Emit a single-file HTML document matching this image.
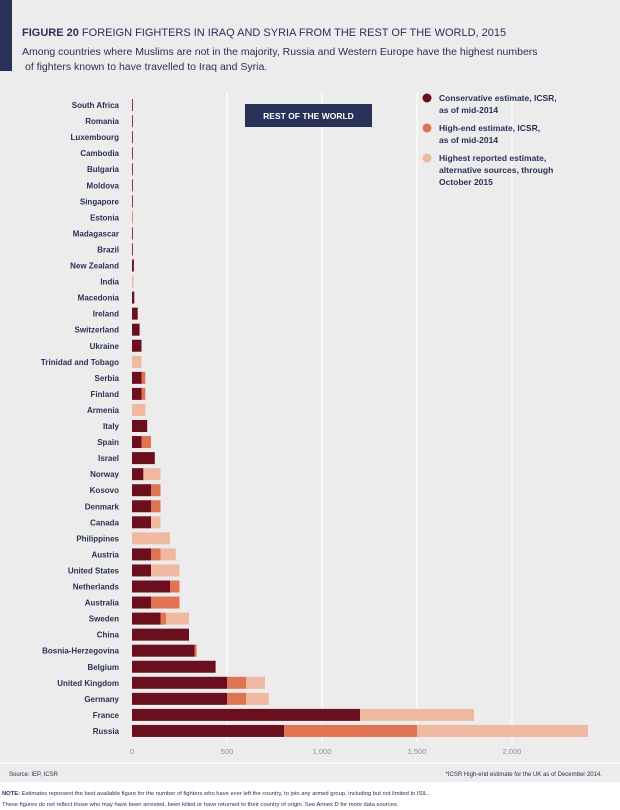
<!DOCTYPE html>
<html><head><meta charset="utf-8"><style>
body{margin:0;width:620px;height:810px;background:#fff;font-family:"Liberation Sans",sans-serif;overflow:hidden}
svg{display:block}
</style></head><body>
<svg id="c" width="620" height="810">
<rect x="0" y="0" width="620" height="782" fill="#ececec"/>
<rect x="0" y="0" width="12" height="71" fill="#283158"/>
<text x="22" y="36" font-size="11" fill="#283158"><tspan font-weight="bold">FIGURE 20</tspan>  FOREIGN FIGHTERS IN IRAQ AND SYRIA FROM THE REST OF THE WORLD, 2015</text>
<text x="22" y="55" font-size="10.5" fill="#283158">Among countries where Muslims are not in the majority, Russia and Western Europe have the highest numbers</text>
<text x="25" y="70" font-size="10.5" fill="#283158">of fighters known to have travelled to Iraq and Syria.</text>
<g id="grid"></g>
<g id="bars"></g>
<g id="labels"></g>
<g id="ticks"></g>
<rect x="245" y="104" width="127" height="23" fill="#283158"/>
<text x="308.5" y="119" font-size="8.5" font-weight="bold" fill="#fff" text-anchor="middle">REST OF THE WORLD</text>
<g font-size="8.5" font-weight="bold" fill="#283158">
<circle cx="427" cy="98" r="4.5" fill="#6b0f1e"/>
<text x="439" y="101">Conservative estimate, ICSR,<tspan x="439" dy="12">as of mid-2014</tspan></text>
<circle cx="427" cy="128" r="4.5" fill="#e07352"/>
<text x="439" y="131">High-end estimate, ICSR,<tspan x="439" dy="12">as of mid-2014</tspan></text>
<circle cx="427" cy="158" r="4.5" fill="#efb8a0"/>
<text x="439" y="161">Highest reported estimate,<tspan x="439" dy="12">alternative sources, through</tspan><tspan x="439" dy="12">October 2015</tspan></text>
</g>
<line x1="0" y1="763" x2="620" y2="763" stroke="#f6f6f6" stroke-width="2"/>
<text x="9" y="776" font-size="6" fill="#283158">Source: IEP, ICSR</text>
<text x="602" y="776" font-size="6" fill="#283158" text-anchor="end">*ICSR High-end estimate for the UK as of December 2014.</text>
<text x="2" y="795" font-size="5.8" fill="#283158"><tspan font-weight="bold">NOTE:</tspan> Estimates represent the best available figure for the number of fighters who have ever left the country, to join any armed group, including but not limited to ISIL.</text>
<text x="2" y="806" font-size="5.8" fill="#283158">These figures do not reflect those who may have been arrested, been killed or have returned to their country of origin. See Annex D for more data sources.</text>
</svg>
<script>
const countries=["South Africa","Romania","Luxembourg","Cambodia","Bulgaria","Moldova","Singapore","Estonia","Madagascar","Brazil","New Zealand","India","Macedonia","Ireland","Switzerland","Ukraine","Trinidad and Tobago","Serbia","Finland","Armenia","Italy","Spain","Israel","Norway","Kosovo","Denmark","Canada","Philippines","Austria","United States","Netherlands","Australia","Sweden","China","Bosnia-Herzegovina","Belgium","United Kingdom","Germany","France","Russia"];
const conservative=[1,1,1,1,1,1,1,0,1,3,10,0,12,30,40,50,0,50,50,0,80,50,120,60,100,100,100,0,100,100,200,100,150,300,330,440,500,500,1200,800];
const highEnd=[1,1,1,1,1,1,1,3,1,3,10,0,12,30,40,50,0,70,70,0,80,100,120,60,150,150,100,0,150,100,250,250,180,300,340,440,600,600,1200,1500];
const highest=[1,1,1,1,1,1,1,3,1,3,10,8,12,30,40,50,50,70,70,70,80,100,120,150,150,150,150,200,230,250,250,250,300,300,340,440,700,720,1800,2400];
const tickValues=[0,500,1000,1500,2000];
const tickLabels=["0","500","1,000","1,500","2,000"];
const NS="http://www.w3.org/2000/svg";
const x0=132,pxPer=95/500,y0=105,step=16.05,bh=12;
const xs=v=>x0+v*pxPer, ys=i=>y0+i*step;
function mk(t,a,p){const e=document.createElementNS(NS,t);for(const k in a)e.setAttribute(k,a[k]);p.appendChild(e);return e;}
const grid=document.getElementById('grid'),bars=document.getElementById('bars'),labels=document.getElementById('labels'),ticks=document.getElementById('ticks');
tickValues.forEach((v,i)=>{
 if(v>0){const l=mk('line',{x1:xs(v),x2:xs(v),y1:92,y2:742,stroke:'#fff','stroke-width':1.2},grid);
 
 }
 const t=mk('text',{x:xs(v),y:754,'font-size':7.5,fill:'#8a8fa8','text-anchor':'middle'},ticks);t.textContent=tickLabels[i];
 
 
});
countries.forEach((c,i)=>{
 const y=ys(i);
 const t=mk('text',{x:119,y:y+3,'font-size':8,'font-weight':'bold',fill:'#283158','text-anchor':'end'},labels);t.textContent=c;
 
 
 const segs=[[0,conservative[i],'#6b0f1e','conservative'],[conservative[i],highEnd[i],'#e07352','high-end'],[highEnd[i],highest[i],'#efb8a0','highest-reported']];
 segs.forEach(s=>{ if(s[1]>s[0]){
  const r=mk('rect',{x:xs(s[0]),y:y-bh/2,width:Math.max(xs(s[1])-xs(s[0]),0.8),height:bh,fill:s[2]},bars);
  
  
 }});
});
</script>
</body></html>
